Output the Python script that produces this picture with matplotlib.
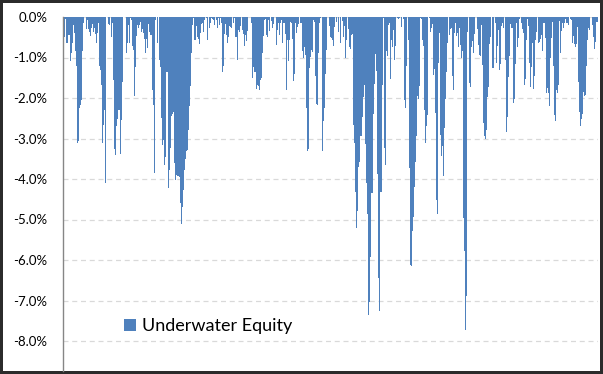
import numpy as np
import matplotlib
matplotlib.use("Agg")
import matplotlib.pyplot as plt
from matplotlib.patches import Rectangle

# underwater equity (drawdown from peak), in percent, one value per period
underwater = [
    -0.15, -0.5, -0.05, -0.64, -0.64, -0.45, -0.45, -1.08, -0.9, -0.65,
    -0.2, -0.4, -0.85, -1.2, -3.1, -3.05, -2.25, -2.17, -2.05, -0.85,
    -0.15, 0, 0, -0.3, -0.07, -0.3, -0.38, -0.47, -0.28, -0.17,
    -0.36, -0.28, -0.42, -0.65, -0.4, -0.15, -1.2, -1.32, -1.67, -3.12,
    -2.67, -2.3, -4.1, 0, 0, -0.17, -0.2, 0, -0.5, -0.15,
    -1.55, -3.27, -3.4, -2.7, -2.53, -2.3, -2.3, -3.38, -2.55, -1.6,
    0, 0, 0, -0.9, -0.65,
    -0.2, -0.65, -0.03, -0.07, -0.72, -0.82, -1.96, -1.23, -0.47, -0.2,
    -0.28, -0.2, -0.12, -0.36, -0.3, -0.4, -0.55, -0.88, -0.55, -0.77,
    -0.17, -0.36, -0.44, -0.44, -1.8, -2.17, -3.85, -0.07, 0, -0.63,
    0, -1.07, -1.23, -2.5, -3.15, -3.03, -3.65, -3.45, -1.35, -1.35,
    -4.23, -3.78, -3.24, -2.44, -2.4, -2.35, -3.6, -4.03, -3.9, -3.93,
    -3.93, -3.95, -4.6, -5.1, -4.68, -4.27, -3.77, -3.5, -3.32, -3.28,
    -2.79, -2.2, -1.7, -0.88, -0.2, -0.03, -0.57, -0.58,
    -0.22, -0.5, -0.55, -0.67, -0.4, -0.17, -0.14, -0.36, -0.07, 0,
    -0.03, -0.57, 0, -0.28, -0.14, -0.03, -0.06, -0.07, -0.2, 0,
    -0.07, -0.28, -0.03, -0.2, -0.03, -0.14, -1.35, -1.2, -0.42, -0.17,
    -0.44, -0.65, -0.49, -0.22, -0.24, -0.26, 0, -0.14, -0.03, -0.5,
    -0.49, -1.06, -0.32, -0.36, -0.22, 0, -0.32, -0.43, -0.72, -0.44,
    -0.6, -0.34, 0, 0, 0, -0.16, -1.5, -1.23, -1.35, -1.35,
    -1.78, -1.68, -1.7, -1.8, -1.55, -1.5, -0.9, -0.47, -0.07, -0.04,
    -0.45, -0.5, -0.07, -0.34, 0, -0.09, -0.28, -0.17, 0, 0,
    -0.69, -0.32, -0.14, -0.45, -0.16, -0.07, -0.63, -0.14, -0.14, -0.42,
    -1.8, -0.57, -1.08, -0.58, -0.12, -0.16, -0.55, -1.57, -1.4, -0.14,
    -0.39, -0.24, -0.17, 0, -0.14, -0.14, -0.85, -1.02, -0.75, -0.94,
    -2.24, -3.32, -3.25, -1.27, -0.98, -0.82, -0.86, -0.07, -0.12, -1.45,
    -2.15, -2.17, -0.9, -0.16, -0.03, 0, -3.3, -2.56, -2.24, -1.4,
    -0.82, 0, 0, -0.22, -0.5, -0.53,
    -0.57, -0.72, -0.24, 0, -0.12, 0, -0.36, 0, -0.65, 0,
    -0.09, -0.49, -0.22, -1.02, -0.58, 0, -0.3, -0.75, -0.79, -0.44,
    -0.42, -2.67, -3.12, -4.31, -5.22, -4.78, -3.71, -3.57, -2.95, -2.94,
    -2.48, -1.98, -1.68, -3.14, -4.11, -4.86, -7.36, -7.03, -5.92, -4.35,
    -4.35, -2.4, -1.66, -0.91, -1.33, -3.88, -6.45, -7.25, -4.31, -4.31,
    -1.68, -0.03, -3.24, -3.65, -0.83, -0.96, -0.2, -0.16, -1.54, -0.57,
    -0.73, -0.32, -1.05, -0.72, 0, -0.03, -0.06, -0.02, 0, -0.24,
    0, -0.06, -2.05, -2.25, -1.2, 0, -0.57, -3.74, -6.12, -6.16,
    -5.28, -4.95, -4.19, -3.57, -2.95, -1.95, -2.03, -1.7, -0.03, -0.06,
    -0.58, -0.72, -2.3, -3.1, -2.7, -2.42, 0, -0.03, -0.36, -0.28,
    -0.17, -1.43, -1.29, -2.36, -4.52, -4.86, -1.13, -0.4, -2.91, -3.43,
    -3.18, -3.93, -2.75, -2.03, -1.35, -0.65, 0, -0.44, -0.3, -0.26,
    -1.45, -1.8, -0.39, -0.16, -0.47, -0.39, -0.75, -0.28, -0.69, -1.02,
    -0.83, -4.97, -5.77, -7.73, -6.89, -0.36, 0,
    -1.62, -1.73, -0.75, -0.6, -0.88, -0.42, 0, 0, -0.3, -0.69,
    -0.94, -0.96, -0.2, -1.19, -2.61, -2.94, -3.0, -2.8, -1.98, -1.73,
    -0.67, -0.5, 0, -1.25, -1.27, 0, -0.14, -1.13, -0.72, -0.32,
    -1.32, -1.15, -0.22, -0.14, -0.26, 0, -1.05, -2.83, -2.48, -1.49,
    -0.96, -0.17, -0.28, -0.26, -2.12, -2.03, -1.16, -0.16, -0.75, -0.53,
    -0.06, 0, -0.16, -0.3, -0.39, -1.68, -1.54, -0.58, -0.06, -0.22,
    -1.13, -1.72, -1.24, -0.63, -1.78, -1.46, -0.58, -0.36,
    0, -0.65, -0.61, -0.55, -0.44, -0.83, -0.16, -0.14, -0.53, -1.88,
    -1.76, -1.87, -2.2, -1.02, -0.53, -0.12, -1.21, -2.42, -2.56, -1.8,
    -1.88, -1.68, -0.09, -0.9, -0.34, -0.16, -0.26, -0.16, -0.06, -0.14,
    -0.16, -0.2, 0, -0.06, -0.07, -0.63, -0.47, -0.67, -0.75, -0.67,
    -0.24, -1.6, -2.34, -2.7, -2.53, -2.4, -1.84, -1.95, -1.93, -1.21,
    -0.57, -0.26, -0.32, 0, 0, -0.2, -0.5, -0.79, -0.61, -0.12,
    -0.12,
]
periods = np.arange(len(underwater))
yticks = [0, -1, -2, -3, -4, -5, -6, -7, -8]

W, H = 603, 374
fig = plt.figure(figsize=(W / 100, H / 100), dpi=100)
fig.patch.set_facecolor("#2b2b2b")
fig.add_artist(Rectangle((3 / W, 3 / H), 597 / W, 368 / H, transform=fig.transFigure,
                         facecolor="white", edgecolor="none", zorder=-1))

ax = fig.add_axes([62.5 / W, 3 / H, 535 / W, 354 / H])
ax.bar(periods, underwater, width=1.0, color="#4f81bd", linewidth=0,
       label="Underwater Equity", zorder=2)

ax.set_xlim(-0.5, len(underwater) - 0.5)
ax.set_ylim(-354 / 40.5, 0)
ax.set_yticks(yticks)
ax.set_yticklabels([f"{v:.1f}%" for v in yticks], fontfamily="Lato", fontsize=9.5)
ax.tick_params(axis="y", length=0, pad=11)
ax.set_xticks([])
ax.yaxis.grid(True, color="#d9d9d9", linestyle=(0, (4, 3)), linewidth=0.9, zorder=0)
ax.set_axisbelow(True)
for side in ["top", "right", "bottom"]:
    ax.spines[side].set_visible(False)
ax.spines["left"].set_color("#868686")
ax.spines["left"].set_linewidth(1.0)

ax.legend(loc="center left", bbox_to_anchor=(124 / W, 1 - 326 / H),
          bbox_transform=fig.transFigure, frameon=False, borderpad=0,
          borderaxespad=0, handlelength=0.65, handleheight=0.65,
          handletextpad=0.35, prop={"family": "Lato", "size": 13})

fig.savefig("out.png", dpi=100, facecolor=fig.get_facecolor())
